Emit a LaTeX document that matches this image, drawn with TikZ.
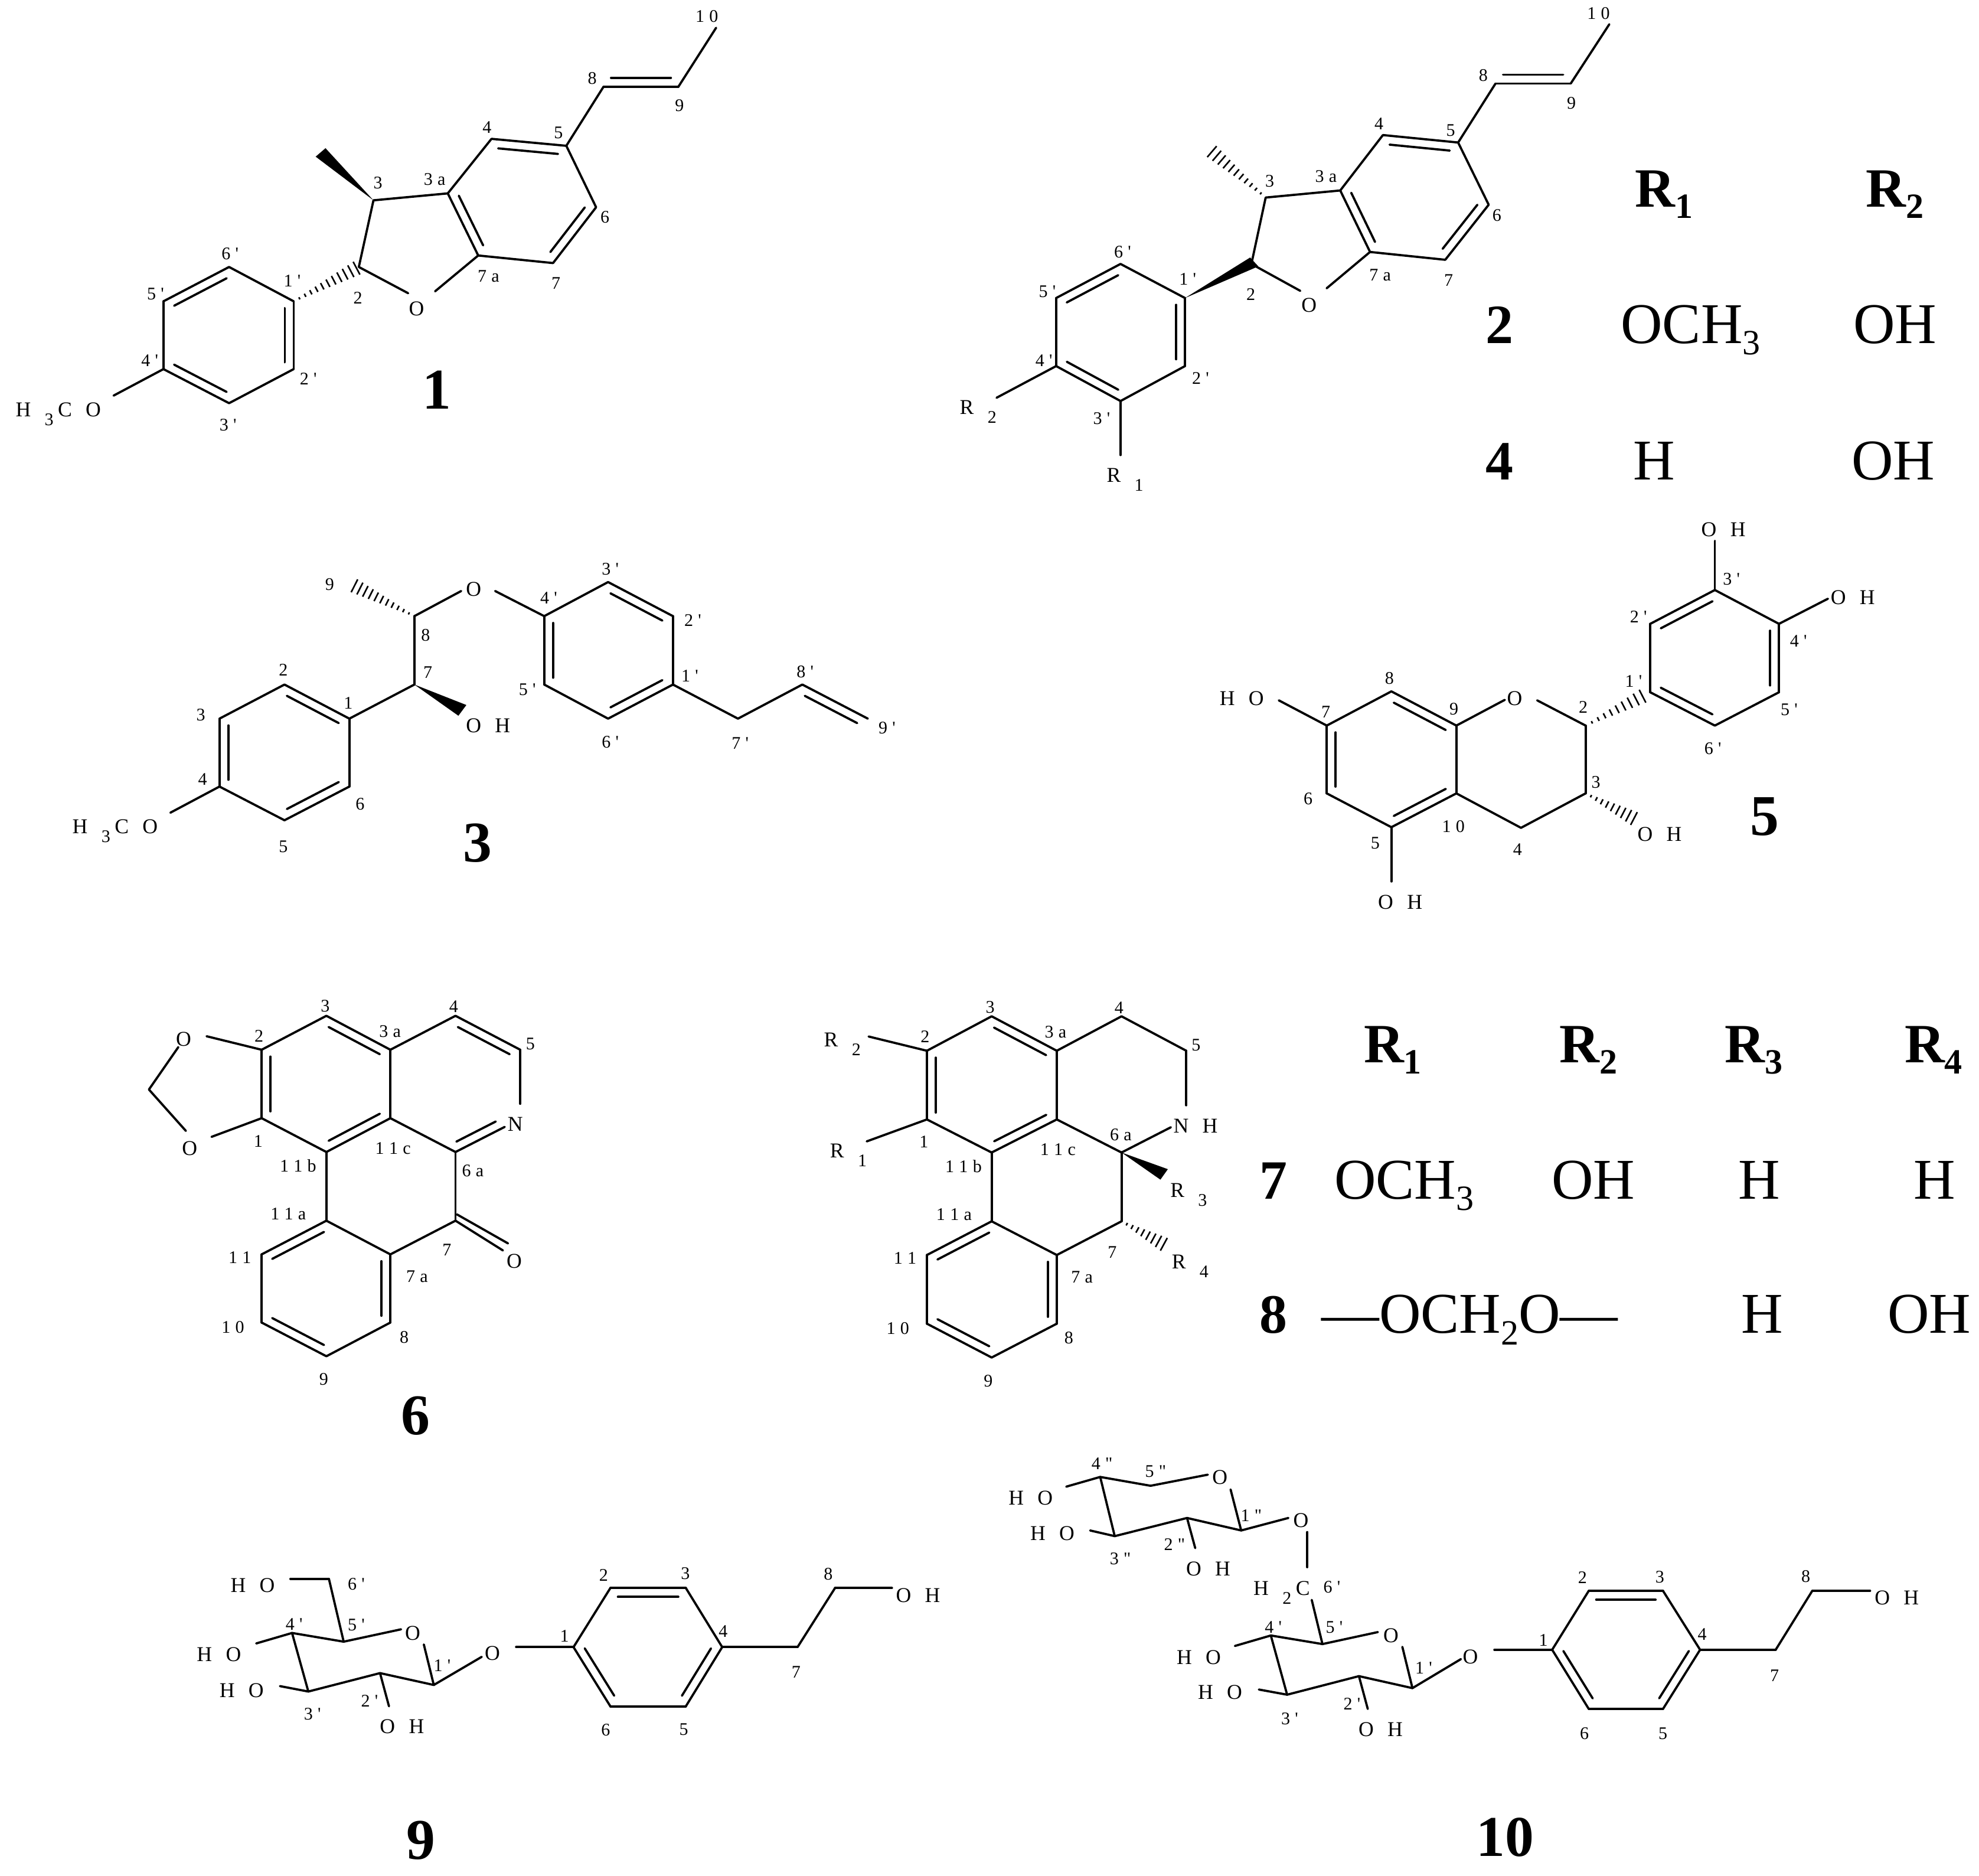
\documentclass[tikz,border=0pt]{standalone}
\usepackage{fontspec}
\setmainfont{Liberation Serif}[Ligatures=TeXOff]
\usetikzlibrary{calc}

\newcommand{\low}[1]{\smash{\raisebox{-4pt}{\fontsize{8}{9}\selectfont #1}}}
\newcommand{\subs}[1]{\raisebox{-.2em}{\fontsize{16}{18}\selectfont #1}}
\newcommand{\atoms}[2]{\foreach \nm/\px/\py in {#2} \coordinate (#1\nm) at (\px,\py);}
\newcommand{\bonds}[2]{\foreach \u/\v in {#2} \draw[bond] (#1\u) -- (#1\v);}
\newcommand{\dbls}[2]{\foreach \u/\v in {#2}{
    \draw[bond] (#1\u) -- (#1\v);
    \draw[bond] ($(#1\u)!.1!(#1\v)!4pt!90:(#1\v)$) -- ($(#1\v)!.1!(#1\u)!4pt!-90:(#1\u)$);}}
\newcommand{\wdg}[3]{\fill (#1) -- (#2) -- (#3) -- cycle;}
\newcommand{\hsh}[3]{\foreach \i in {1,...,#3}{
    \pgfmathsetmacro{\fr}{\i/(#3+.4)}\pgfmathsetmacro{\hw}{.25+3*\i/#3}
    \draw[hashbar] ($(#1)!\fr!(#2)!\hw pt!90:(#2)$) -- ($(#1)!\fr!(#2)!\hw pt!-90:(#2)$);}}
\newcommand{\nums}[2]{\foreach [count=\k] \px/\py/\txt in {#2} \node[num] (#1n\k) at (\px,\py) {\spaceskip=2.2pt \txt};}
\newcommand{\labs}[2]{\foreach [count=\k] \px/\py/\txt in {#2} \node[atom] (#1l\k) at (\px,\py) {\spaceskip=6.2pt \txt};}

\begin{document}
\begin{tikzpicture}[
    x=0.02cm, y=-0.02cm,
    bond/.style={line width=1pt, line cap=round, line join=round},
    hashbar/.style={line width=0.7pt},
    num/.style={font=\fontsize{8}{9}\selectfont, inner sep=0pt},
    atom/.style={font=\fontsize{9.5}{11}\selectfont, inner sep=0pt},
    cmpd/.style={font=\bfseries\fontsize{26}{30}\selectfont, inner sep=0pt},
    tbl/.style={font=\fontsize{26}{30}\selectfont, inner sep=0pt, anchor=base},
    tblb/.style={tbl, font=\bfseries\fontsize{25}{30}\selectfont}
]
    \useasboundingbox (0,0) rectangle (1568,1486);

    % compound 1
    \atoms{a}{c10/567.4/22, c9/537.5/68.7, c8/478.2/68.7, c5/448.7/115.5, c4/389.4/110, c3a/354.8/153.2,
        c7a/378.9/202.4, c7/438.2/208.4, c6/472.3/164.2, c3/295.9/158.7, c2/284.3/211.5, oa/323.4/232.3,
        ob/344.7/230.8, me1/250.1/124.1, me2/257.9/117.4, c1p/232.7/238.7, c6p/181.5/211.5, c5p/129.5/238.7,
        c4p/129.5/292.4, c3p/181.5/319.4, c2p/232.7/292.4, ome/90/313.4}
    \bonds{a}{c10/c9, c8/c5, c4/c3a, c5/c6, c7a/c7, c3a/c3, c3/c2, c2/oa, c7a/ob, c1p/c6p, c5p/c4p, c3p/c2p, c4p/ome}
    \dbls{a}{c8/c9, c5/c4, c7/c6, c3a/c7a, c2p/c1p, c4p/c3p, c6p/c5p}
    \wdg{ac3}{ame1}{ame2}
    \hsh{ac1p}{ac2}{11}
    \nums{a}{560/13/1 0, 469.2/62/8, 538.3/83.5/9, 442.5/105/5, 385.9/100.7/4, 344.4/142.3/3 a, 299.4/145/3,
        479.3/171.9/6, 440.5/224.4/7, 387/219/7 a, 283.5/235.8/2, 231.5/222.5/1 ', 182.3/201/6 ', 123.3/232.7/5 ',
        118.7/285.5/4 ', 244.3/300/2 ', 180.7/336.6/3 '}
    \labs{a}{330/244.7/O, 46.2/324.6/H \low{3}\kern2pt C O}
    \node[cmpd] (one) at (346.3,309) {1};

    % compounds 2 and 4
    \atoms{b}{c10/1275.1/19.2, c9/1244.5/66.2, c8/1184.9/66.2, c5/1155.3/112.9, c4/1095.7/107, c3a/1061.9/150.9,
        c7a/1085.5/199.6, c7/1145.1/205.8, c6/1179.5/162.2, c3/1002.8/156.5, c2/991.5/209.1, oa/1030.2/230.4,
        ob/1051.1/228.4, me/958.7/118.8, w1/990.5/204, w2/997/211, c1p/938.9/236.1, c6p/887.8/209.1,
        c5p/836.8/236.1, c4p/836.8/290, c3p/887.8/317.7, c2p/938.9/290, rb/789.6/315.1, ra/887.8/360.5}
    \bonds{b}{c10/c9, c8/c5, c4/c3a, c5/c6, c7a/c7, c3a/c3, c3/c2, c2/oa, c7a/ob, c1p/c6p, c5p/c4p, c3p/c2p, c4p/rb, c3p/ra}
    \dbls{b}{c8/c9, c5/c4, c7/c6, c3a/c7a, c2p/c1p, c4p/c3p, c6p/c5p}
    \wdg{bc1p}{bw1}{bw2}
    \hsh{bc3}{bme}{11}
    \nums{b}{1266.5/10.8/1 0, 1175.2/59.5/8, 1245/81.6/9, 1149.4/103.2/5, 1092.5/98/4, 1050.6/139.8/3 a, 1006/143.7/3,
        1186/170.6/6, 1093.5/218/7 a, 1147.8/222/7, 991/233/2, 941/221.2/1 ', 889.5/199.4/6 ', 829.8/231/5 ',
        827.1/285.6/4 ', 951.2/299.7/2 ', 872.8/331.5/3 '}
    \labs{b}{1037.2/241.7/O, 775/322.8/R \low{2}, 891.4/376.7/R \low{1}}
    \node[tblb] (rowa1) at (1318.5,164) {R\subs{1}};
    \node[tblb] (rowa2) at (1501.5,164) {R\subs{2}};
    \node[tblb] (two) at (1188,272) {2};
    \node[tbl] (two1) at (1339.5,272) {OCH\subs{3}};
    \node[tbl] (two2) at (1501.5,272) {OH};
    \node[tblb] (four) at (1188,380) {4};
    \node[tbl] (four1) at (1310.5,380) {H};
    \node[tbl] (four2) at (1500,380) {OH};

    % compound 3
    \atoms{c}{c9/279.1/463.2, c8/328.3/488.1, oa/365.4/468.2, ob/392.3/468.2, c4p/431.2/488.1, c3p/481.8/461.1,
        c2p/533.2/488.1, c1p/533.2/542.3, c6p/481.8/569.3, c5p/431.2/542.3, c7p/584.7/569.3, c8p/635.7/542.3,
        c9p/687.6/569.3, c7/328.3/542.3, c1/276.8/569.3, c2/225.4/542.3, c3/173.9/569.3, c4/173.9/623.1,
        c5/225.4/649.8, c6/276.8/623.1, ome/135/643.8, w1/369.5/558.5, w2/363.2/567}
    \bonds{c}{c8/oa, ob/c4p, c8/c7, c7/c1, c3p/c4p, c2p/c1p, c6p/c5p, c1p/c7p, c7p/c8p, c2/c3, c4/c5, c6/c1, c4/ome}
    \dbls{c}{c1/c2, c3/c4, c5/c6, c2p/c3p, c6p/c1p, c4p/c5p, c9p/c8p}
    \wdg{cc7}{cw1}{cw2}
    \hsh{cc8}{cc9}{11}
    \nums{c}{261.2/462.8/9, 483.6/451/3 ', 434.8/473.7/4 ', 548.9/491.2/2 ', 337.2/503.1/8, 339/532.6/7, 224.5/530.7/2,
        275.9/556.9/1, 546.6/535.6/1 ', 637.9/532.2/8 ', 417.8/546.4/5 ', 159.1/566.2/3, 483.6/588/6 ', 586.5/589/7 ',
        702.8/576.8/9 ', 160.5/617.4/4, 285.3/637/6, 224.5/670.5/5}
    \labs{c}{375.3/466.8/O, 386.7/574.8/O H, 91.2/654.9/H \low{3}\kern2pt C O}
    \node[cmpd] (three) at (378.4,668) {3};

    % compound 5
    \atoms{d}{oht/1358.7/428.5, c3p/1358.7/467.4, c4p/1409.5/494.2, c5p/1409.5/548.4, c6p/1358.7/574.8, c1p/1307.5/548.4,
        c2p/1307.5/494.2, ohr/1448.3/474.3, c2/1256.3/574.8, hs/1303.4/550.5, c3/1256.3/628.5, c4/1205.1/655.8,
        c10/1153.9/628.5, c9/1153.9/574.8, c5/1102.4/655.3, c6/1051.2/628.5, c7/1051.2/574.8, c8/1102.4/547.7,
        oa/1192.3/554.4, ob/1217.9/554.8, hoe/1013.2/554.8, ohb/1102.4/698.3, oh3/1296.3/649.3}
    \bonds{d}{oht/c3p, c3p/c4p, c5p/c6p, c1p/c2p, c4p/ohr, c2/c3, c3/c4, c4/c10, c10/c9, c5/c6, c7/c8, c9/oa, ob/c2, c7/hoe, c5/ohb}
    \dbls{d}{c9/c8, c5/c10, c7/c6, c3p/c2p, c5p/c4p, c1p/c6p}
    \hsh{dc2}{dhs}{9}
    \hsh{dc3}{doh3}{9}
    \nums{d}{1371.9/458.6/3 ', 1298.2/488.7/2 ', 1425/507.6/4 ', 1294.3/539.8/1 ', 1417.6/562.3/5 ', 1357.1/593/6 ',
        1100.8/537.2/8, 1152/561.7/9, 1050.4/563.8/7, 1254.4/560.2/2, 1264.5/619.7/3, 1036.4/632.6/6, 1151.6/654.7/1 0,
        1089.6/668/5, 1202.4/673/4}
    \labs{d}{1365.5/419.5/O H, 1468/473.2/O H, 983.9/553.3/H O, 1200.1/553.3/O, 1314.9/661/O H, 1109.4/714.8/O H}
    \node[cmpd] (five) at (1398.2,647) {5};

    % compound 6
    \atoms{e}{c3/258.6/804.7, c3a/309.3/831.6, c4/360.9/804.7, c5/412.2/831.6, nt/412.2/874.4, nb/399.9/892.7,
        c6a/360.9/912.6, c11c/309.3/885.8, c11b/258.6/912.6, c1/207.3/885.8, c2/207.3/831.6, ot/163.7/820.9,
        ob/167.6/900.6, ch/118/863.1, ots/141.3/829.5, obs/147.3/895.9, c11a/258.6/967, c7/360.9/967,
        c7a/309.3/993.7, c8/309.3/1047.7, c9/258.6/1074.4, c10/207.3/1047.7, c11/207.3/993.7, oe/398.5/990.6,
        oca/362/962, ocb/402.5/985}
    \bonds{e}{c2/c3, c3a/c4, c3a/c11c, c5/nt, c11c/c6a, c1/c11b, c2/ot, c1/ob, ots/ch, ch/obs, c11b/c11a, c6a/c7,
        c11a/c7a, c7a/c7, c8/c9, c10/c11, c7/oe, oca/ocb}
    \dbls{e}{c2/c1, c3a/c3, c11b/c11c, c5/c4, c6a/nb, c11a/c11, c10/c9, c8/c7a}
    \nums{e}{257.7/796.8/3, 359.4/797.3/4, 309/817/3 a, 205.2/820.7/2, 420.2/827.1/5, 204.6/904.2/1, 311.4/909.7/1 1 c,
        236.2/923.3/1 1 b, 374.6/927.4/6 a, 228.4/961.5/1 1 a, 354/990.1/7, 190/996.1/1 1, 330.5/1011.2/7 a,
        184.6/1051.5/1 0, 320.3/1059.4/8, 256.5/1092.8/9}
    \labs{e}{145.5/823/O, 150.3/909.7/O, 408.3/890.6/N, 407.4/999/O}
    \node[cmpd] (six) at (329.3,1121.4) {6};

    % compounds 7 and 8
    \atoms{f}{c3/785.7/805.1, c3a/837.3/832.4, c4/888.6/805.1, c5/939.9/832.4, nt/939.9/875.6, ns/927.7/893,
        c6a/888.6/913, c11c/837.3/886.8, c11b/785.7/913, c1/734.4/886.8, c2/734.4/832.4, rb/688.2/821.1,
        ra/686.7/904.2, c11a/785.7/967.5, c7/888.6/967.5, c7a/837.3/994.2, c8/837.3/1048.6, c9/785.7/1075.4,
        c10/734.4/1048.6, c11/734.4/994.2, w1/925.3/926.2, w2/919.4/934.5, rd/923.8/986.6}
    \bonds{f}{c2/c3, c3a/c4, c4/c5, c5/nt, c3a/c11c, c11c/c6a, c6a/ns, c1/c11b, c1/ra, c2/rb, c11b/c11a, c6a/c7,
        c7/c7a, c11a/c7a, c8/c9, c10/c11}
    \dbls{f}{c2/c1, c3a/c3, c11b/c11c, c11a/c11, c10/c9, c8/c7a}
    \wdg{fc6a}{fw1}{fw2}
    \hsh{fc7}{frd}{8}
    \nums{f}{784.5/798/3, 886.6/798.5/4, 836.4/817.6/3 a, 732.9/821.1/2, 947.7/827.8/5, 732/904.7/1, 838.2/910.6/1 1 c,
        763.4/924/1 1 b, 888/899/6 a, 755.9/962.2/1 1 a, 881.2/992/7, 717.1/996.8/1 1, 857.3/1011.6/7 a,
        711.4/1052.2/1 0, 846.9/1060/8, 783/1094/9}
    \labs{f}{947.3/891.8/N H, 667.4/823.5/R \low{2}, 672.2/911.4/R \low{1}, 941.8/942.9/R \low{3}, 943/999.7/R \low{4}}
    \node[tblb] (rowb1) at (1103.5,842) {R\subs{1}};
    \node[tblb] (rowb2) at (1258.5,842) {R\subs{2}};
    \node[tblb] (rowb3) at (1389.5,842) {R\subs{3}};
    \node[tblb] (rowb4) at (1532,842) {R\subs{4}};
    \node[tblb] (seven) at (1008.9,949.6) {7};
    \node[tbl] (seven1) at (1112.5,949.6) {OCH\subs{3}};
    \node[tbl] (seven2) at (1262.5,949.6) {OH};
    \node[tbl] (seven3) at (1394,949.6) {H};
    \node[tbl] (seven4) at (1533,949.6) {H};
    \node[tblb] (eight) at (1008.9,1056) {8};
    \node[tbl] (eight1) at (1164.5,1056) {—OCH\subs{2}O—};
    \node[tbl] (eight3) at (1396,1056) {H};
    \node[tbl] (eight4) at (1528.5,1056) {OH};

    % compound 9
    \atoms{g}{hoe/230.1/1250.7, c6p/260.6/1250.7, c5p/272.3/1300.5, oa/317.8/1290.7, ob/335.8/1302.7, c1p/343.7/1334.8,
        c2p/301.1/1325.4, c3p/244.3/1340, c4p/231.4/1293.6, oh4/203/1301.9, oh3/221.8/1335.7, oh2/308.2/1351.7,
        gla/381.7/1312.5, glb/408.9/1304.8, c1/454.4/1304.8, c2/483.6/1258, c3/543.4/1258, c4/572.2/1304.8,
        c5/543.4/1351.7, c6/483.6/1351.7, c7/631.9/1304.8, c8/661.6/1258, ohe/706.7/1258}
    \bonds{g}{hoe/c6p, c6p/c5p, c5p/oa, ob/c1p, c1p/c2p, c2p/c3p, c3p/c4p, c4p/c5p, c4p/oh4, c3p/oh3, c2p/oh2, c1p/gla,
        glb/c1, c1/c2, c3/c4, c5/c6, c4/c7, c7/c8, c8/ohe}
    \dbls{g}{c3/c2, c5/c4, c1/c6}
    \nums{g}{282.3/1255/6 ', 233/1286.7/4 ', 282.3/1287.1/5 ', 350.4/1319.4/1 ', 292.8/1347.4/2 ', 247.6/1358/3 ',
        447.3/1296.2/1, 478.2/1247.7/2, 543/1246.7/3, 573/1292.4/4, 656.2/1246.7/8, 630.7/1324.5/7, 479.9/1370.6/6,
        541.7/1370/5}
    \labs{g}{200.2/1255.8/H O, 173.5/1310.8/H O, 191.5/1339.1/H O, 318.5/1367.5/O H, 327/1293.6/O, 390.1/1309.9/O, 727.4/1264/O H}
    \node[cmpd] (nine) at (333.3,1457.7) {9};

    % compound 10
    \atoms{h}{c4q/871.7/1170, c5q/911.6/1177, oqa/957/1168.2, oqb/975/1179.9, c1q/983.4/1212.4, c2q/940.5/1202.5,
        c3q/883.2/1216.9, oq4/844.8/1177.7, oq3/863.7/1212.4, oq2/947/1226.4, lka/1020.8/1202.5, lkb/1035.8/1213.7,
        lkc/1035.8/1241.5, c6p/1039.3/1267.4, c5p/1047.8/1302.4, oa/1091.7/1292.9, ob/1111.1/1304.6, c1p/1119.1/1337.3,
        c2p/1076.7/1327.8, c3p/1019.8/1342.5, c4p/1006.9/1295.6, oh4/978.4/1303.9, oh3/997.4/1338.4, oh2/1083.7/1353.8,
        gla/1157.5/1314.3, glb/1184/1306.9, c1/1229.8/1306.9, c2/1258.8/1260.2, c3/1317.6/1260.2, c4/1347/1306.9,
        c5/1317.6/1353.8, c6/1258.8/1353.8, c7/1406.9/1306.9, c8/1435.9/1260.2, ohe/1481.7/1260.2}
    \bonds{h}{c4q/c5q, c5q/oqa, oqb/c1q, c1q/c2q, c2q/c3q, c3q/c4q, c4q/oq4, c3q/oq3, c2q/oq2, c1q/lka, lkb/lkc, c6p/c5p,
        c5p/oa, ob/c1p, c1p/c2p, c2p/c3p, c3p/c4p, c4p/c5p, c4p/oh4, c3p/oh3, c2p/oh2, c1p/gla, glb/c1, c1/c2, c3/c4,
        c5/c6, c4/c7, c7/c8, c8/ohe}
    \dbls{h}{c3/c2, c5/c4, c1/c6}
    \nums{h}{873.2/1159.6/4 ", 915.6/1165.5/5 ", 991.4/1200.4/1 ", 930.6/1223.4/2 ", 887.7/1234.7/3 ", 1055.3/1257.3/6 ',
        1008.9/1288.8/4 ', 1057.2/1289.3/5 ', 1128/1321.5/1 ', 1071.2/1349.7/2 ', 1021.8/1361.4/3 ', 1222.8/1299.4/1,
        1253.8/1249.8/2, 1315.1/1249.4/3, 1348.6/1294.5/4, 1430.8/1248.7/8, 1405.9/1327.2/7, 1255.3/1373.4/6, 1317.6/1373.4/5}
    \labs{h}{816.6/1186.9/H O, 966.5/1170.4/O, 833.8/1214.9/H O, 957.3/1242.6/O H, 1030.8/1204.3/O,
        1015.5/1258.4/H \low{2}\kern2pt C, 949.8/1313.2/H O, 1102.1/1295.6/O, 966.7/1340.7/H O, 1093.9/1370/O H,
        1165/1312.5/O, 1502.9/1265.6/O H}
    \node[cmpd] (ten) at (1192.4,1455.7) {10};
\end{tikzpicture}
\end{document}
